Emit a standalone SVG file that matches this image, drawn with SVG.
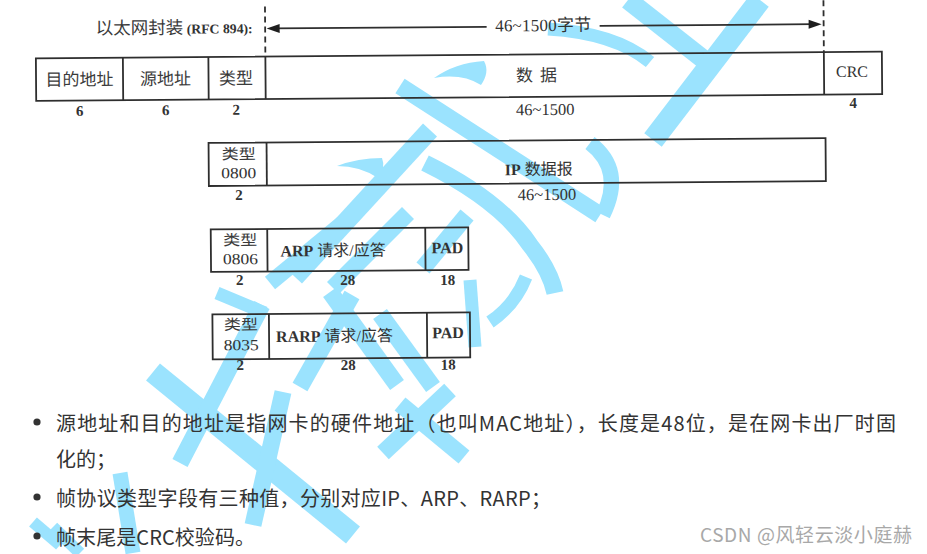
<svg xmlns="http://www.w3.org/2000/svg" width="927" height="554" viewBox="0 0 927 554">
<style>
.ws{fill:none;stroke:#9be3fe;stroke-width:19;stroke-linecap:butt;stroke-linejoin:round}
.wf{fill:#9be3fe}
.box{fill:none;stroke:#2e2e2e;stroke-width:1.8}
.ln{fill:none;stroke:#2e2e2e;stroke-width:1.8}
.dash{fill:none;stroke:#2e2e2e;stroke-width:1.8;stroke-dasharray:6 4}
.ah{fill:#1e1e1e}
.cj{font-family:"Noto Sans CJK SC","Liberation Serif",serif;fill:#3a3a3a;text-anchor:middle}
.sf{font-family:"Liberation Serif","Noto Sans CJK SC",serif;fill:#333;text-anchor:middle}
.b{font-weight:bold}
.bt{font-family:"Noto Sans CJK SC","Liberation Sans",sans-serif;font-size:20px;fill:#333}
.wm{font-family:"Noto Sans CJK SC","Liberation Sans",sans-serif;font-size:19px;fill:#a8a8a8}
</style>

<g id="watermark">
<path class="ws" d="M628,0 L712,66"/>
<path class="ws" d="M760,0 L653,140" style="stroke-width:22"/>
<path class="ws" d="M548,29 Q615,33 650,62" style="stroke-width:13"/>
<path class="wf" d="M434,78 Q455,63 484,61 Q490,72 481,85 Q462,73 434,78 Z"/>
<path class="wf" d="M337,166 Q358,158 382,158 Q386,168 378,178 Q360,166 337,166 Z"/>
<path class="ws" d="M400,86 L600,215" style="stroke-width:17"/>
<path class="ws" d="M590,143 Q625,170 603,215" style="stroke-width:15"/>
<path class="ws" d="M430,130 L295,277"/>
<path class="ws" d="M425,163 Q500,200 530,245 Q550,270 555,293" style="stroke-width:17"/>
<path class="ws" d="M470,280 L475,347" style="stroke-width:13"/>
<path class="ws" d="M490,322 Q515,305 526,277" style="stroke-width:13"/>
<path class="ws" d="M153,372 L353,535" style="stroke-width:22"/>
<path class="ws" d="M283,392 L253,525" style="stroke-width:17"/>
<path class="ws" d="M262,305 L180,463" style="stroke-width:17"/>
<path class="ws" d="M217,293 L265,313" style="stroke-width:13"/>
<path class="ws" d="M352,295 L300,387" style="stroke-width:17"/>
<path class="ws" d="M380,314 L433,387" style="stroke-width:17"/>
<path class="ws" d="M400,404 L464,457" style="stroke-width:17"/>
<path class="ws" d="M450,390 L383,453" style="stroke-width:17"/>
<path class="ws" d="M355,213 L270,283" style="stroke-width:16"/>
<path class="ws" d="M408,213 L333,288" style="stroke-width:17"/>
<path class="ws" d="M467,215 L423,268" style="stroke-width:17"/>
<path class="ws" d="M330,292 L397,385" style="stroke-width:17"/>
<path class="ws" d="M120,473 L133,553" style="stroke-width:15"/>
<path class="ws" d="M33,522 L60,545" style="stroke-width:12"/>
<path class="ws" d="M53,527 L80,553" style="stroke-width:12"/>
</g>

<g id="diagram" transform="rotate(-0.45 460 200)">
<g id="connectors">
<path class="dash" d="M266.5,5 V55"/>
<path class="dash" d="M825,3 V55"/>
<path class="ln" d="M276,27 H488 M601,27 H815"/>
<polygon class="ah" points="268,27 281,22.5 281,31.5"/>
<polygon class="ah" points="823,27 810,22.5 810,31.5"/>
<text class="sf" x="544.5" y="31.7" font-size="17" textLength="96">46~1500<tspan font-family="Noto Sans CJK SC">字节</tspan></text>
</g>

<g id="header-label">
<text class="cj" x="97" y="31.5" font-size="17.5" style="text-anchor:start">以太网封装</text>
<text class="sf b" x="188" y="31.5" font-size="13.5" style="text-anchor:start" textLength="66" lengthAdjust="spacingAndGlyphs">(RFC 894):</text>
</g>

<g id="ethernet-frame">
<rect class="box" x="37" y="55" width="846" height="42.5"/>
<path class="ln" d="M124,55 V97.5 M209.5,55 V97.5 M266.5,55 V97.5 M825,55 V97.5"/>
<text class="cj" x="80.5" y="82.5" font-size="17">目的地址</text>
<text class="cj" x="166.5" y="82.5" font-size="17">源地址</text>
<text class="cj" x="237" y="82.5" font-size="17">类型</text>
<text class="cj" x="537.5" y="82" font-size="17" textLength="41">数 据</text>
<text class="sf" x="853" y="80" font-size="16">CRC</text>
<text class="sf b" x="80.5" y="113" font-size="15">6</text>
<text class="sf b" x="166.5" y="113" font-size="15">6</text>
<text class="sf b" x="237" y="113" font-size="15">2</text>
<text class="sf" x="546" y="115.7" font-size="16.5">46~1500</text>
<text class="sf b" x="854" y="111" font-size="15">4</text>
</g>

<g id="ip-frame">
<rect class="box" x="209" y="141" width="617" height="43"/>
<path class="ln" d="M267,141 V184"/>
<text class="cj" x="239" y="157.5" font-size="14.5" textLength="34" lengthAdjust="spacingAndGlyphs">类型</text>
<text class="sf" x="239" y="176.5" font-size="15.5" textLength="35" lengthAdjust="spacingAndGlyphs">0800</text>
<text class="sf" x="539" y="175.5" font-size="16"><tspan class="b">IP</tspan> <tspan font-family="Noto Sans CJK SC">数据报</tspan></text>
<text class="sf b" x="239" y="198.3" font-size="15">2</text>
<text class="sf" x="547" y="200.7" font-size="16.5">46~1500</text>
</g>

<g id="arp-frame">
<rect class="box" x="210.5" y="227.5" width="257.5" height="42.5"/>
<path class="ln" d="M267,227.5 V270 M425,227.5 V270"/>
<text class="cj" x="240" y="243.5" font-size="14.5" textLength="34" lengthAdjust="spacingAndGlyphs">类型</text>
<text class="sf" x="240" y="262.5" font-size="15.5" textLength="35" lengthAdjust="spacingAndGlyphs">0806</text>
<text class="sf" x="280" y="255" font-size="16" style="text-anchor:start"><tspan class="b">ARP</tspan> <tspan font-family="Noto Sans CJK SC">请求</tspan>/<tspan font-family="Noto Sans CJK SC">应答</tspan></text>
<text class="sf b" x="447" y="253.1" font-size="16">PAD</text>
<text class="sf b" x="239" y="283.3" font-size="15">2</text>
<text class="sf b" x="347" y="284.1" font-size="15">28</text>
<text class="sf b" x="447" y="284.9" font-size="15">18</text>
</g>

<g id="rarp-frame">
<rect class="box" x="211.5" y="312.5" width="257.5" height="45"/>
<path class="ln" d="M268,312.5 V357.5 M426,312.5 V357.5"/>
<text class="cj" x="240" y="328" font-size="14.5" textLength="34" lengthAdjust="spacingAndGlyphs">类型</text>
<text class="sf" x="240" y="348.5" font-size="15.5" textLength="35" lengthAdjust="spacingAndGlyphs">8035</text>
<text class="sf" x="275" y="340.5" font-size="16" style="text-anchor:start"><tspan class="b">RARP</tspan> <tspan font-family="Noto Sans CJK SC">请求</tspan>/<tspan font-family="Noto Sans CJK SC">应答</tspan></text>
<text class="sf b" x="447" y="338" font-size="16">PAD</text>
<text class="sf b" x="239" y="368.3" font-size="15">2</text>
<text class="sf b" x="347" y="369" font-size="15">28</text>
<text class="sf b" x="447" y="369.5" font-size="15">18</text>
</g>
</g>

<g id="notes">
<circle cx="37" cy="422" r="3.6" fill="#333"/>
<text class="bt" x="56" y="431" textLength="840" lengthAdjust="spacing">源地址和目的地址是指网卡的硬件地址（也叫MAC地址），长度是48位，是在网卡出厂时固</text>
<text class="bt" x="56" y="467">化的；</text>
<circle cx="37" cy="497" r="3.6" fill="#333"/>
<text class="bt" x="56" y="506" textLength="495" lengthAdjust="spacing">帧协议类型字段有三种值，分别对应IP、ARP、RARP；</text>
<circle cx="37" cy="536" r="3.6" fill="#333"/>
<text class="bt" x="56" y="545" textLength="199" lengthAdjust="spacing">帧末尾是CRC校验码。</text>
</g>

<g id="credit">
<text class="wm" x="700" y="542" textLength="212" lengthAdjust="spacing">CSDN @风轻云淡小庭赫</text>
</g>
</svg>
